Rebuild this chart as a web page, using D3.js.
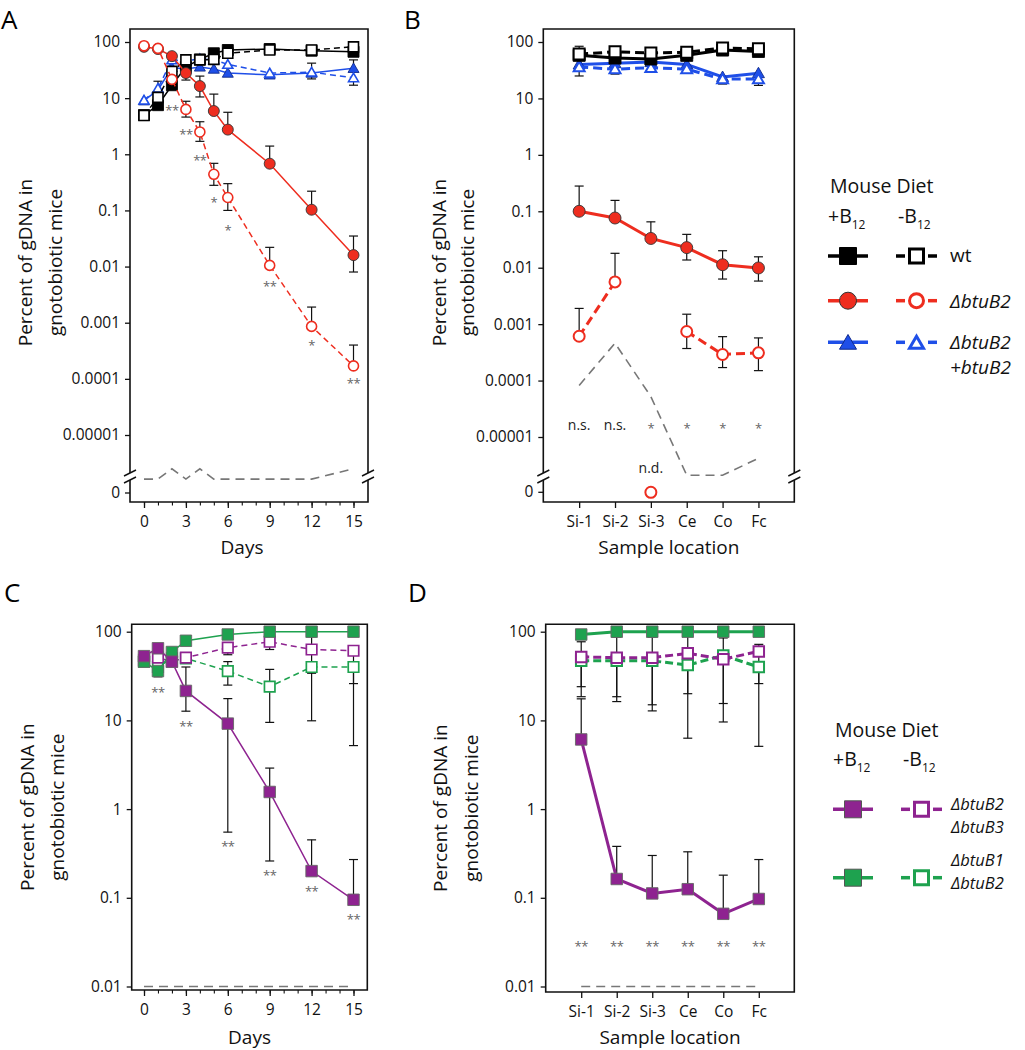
<!DOCTYPE html>
<html>
<head>
<meta charset="utf-8">
<script src="https://cdn.jsdelivr.net/npm/d3@7"></script>
<style>
  body { margin: 0; background: #fff; }
  text { font-family: "Open Sans", "DejaVu Sans", sans-serif; }
</style>
</head>
<body>
<svg id="fig" width="1025" height="1050"></svg>
<script>
// ---------- data ----------
const daysA = [0, 1, 2, 3, 4, 5, 6, 9, 12, 15];
const dayTicks = [0, 3, 6, 9, 12, 15];
const dayMinor = [0, 1, 2, 3, 4, 5, 6, 7, 8, 9, 10, 11, 12, 13, 14, 15];
const yTicksAB = [100, 10, 1, 0.1, 0.01, 0.001, 0.0001, 0.00001];
const yTicksCD = [100, 10, 1, 0.1, 0.01];

const wtPlusA = [5, 7.5, 17, 36, 49, 63, 72, 75, 70, 67];
const wtMinusA = [4.9, 10.3, 30, 48, 48, 49, 63, 72, 72, 82];
const compPlusA = [9, 14, 35, 33, 36, 33, 28, 26, 28, 34];
const compPlusA_hi = [null, null, null, null, null, null, null, null, 42, 48];
const compPlusA_lo = [null, null, null, null, null, null, null, null, 22, null];
const compMinusA = [9.2, 15, 48, 46, 50, 48, 40, 28, 29, 23];
const compMinusA_hi = [null, 20, null, null, null, null, null, null, null, null];
const compMinusA_lo = [null, null, null, null, null, null, null, null, null, 17];
const btuB2PlusA = [82, 75, 56, 28, 16.4, 5.9, 2.75, 0.68, 0.103, 0.016];
const btuB2PlusA_hi = [null, null, null, null, 24.7, 11.8, 5.6, 1.4, 0.22, 0.035];
const btuB2PlusA_lo = [null, null, null, 21, 10.5, null, null, null, null, 0.008];
const btuB2MinusA = [86, 77, 21.6, 6.3, 2.5, 0.44, 0.17, 0.0105, 0.00086, 0.00017];
const btuB2MinusA_hi = [null, null, null, 8.8, 3.8, 0.69, 0.3, 0.022, 0.0019, 0.0004];
const btuB2MinusA_lo = [null, null, null, 4.6, 1.7, 0.28, 0.1, null, null, null];
const lodA = [1.64e-6, 1.64e-6, 2.5e-6, 1.64e-6, 2.5e-6, 1.64e-6, 1.64e-6, 1.64e-6, 1.64e-6, 2.5e-6];
const starDaysA = [2, 3, 4, 5, 6, 9, 12, 15];
const starsA = ['**', '**', '**', '*', '*', '**', '*', '**'];
const starLevelA = [6.9, 2.6, 0.88, 0.158, 0.05, 0.005, 0.00046, 0.000095];

const sites = ['Si-1', 'Si-2', 'Si-3', 'Ce', 'Co', 'Fc'];
const wtPlusB = [58, 52, 50, 58, 72, 68];
const wtMinusB = [61, 67, 64, 66, 78, 76];
const wtMinusB_hi = [84, 78, 74, 76, 84, 84];
const compPlusB = [40, 42, 44, 40, 24, 28];
const compMinusB = [36, 33, 35, 33, 22, 22];
const compMinusB_lo = [25, 27, 30, 28, 18, 17];
const btuB2PlusB = [0.1, 0.076, 0.033, 0.0227, 0.0113, 0.0099];
const btuB2PlusB_hi = [0.28, 0.156, 0.065, 0.039, 0.02, 0.0156];
const btuB2PlusB_lo = [null, null, null, 0.0137, 0.0063, 0.0058];
const btuB2MinusB = [0.00061, 0.0056, 0, 0.00074, 0.00029, 0.00031];
const btuB2MinusB_hi = [0.0019, 0.018, null, 0.0015, 0.0006, 0.00057];
const btuB2MinusB_lo = [null, null, null, 0.00037, 0.00017, 0.00015];
const lodB = [8.2e-5, 4.6e-4, 5.2e-5, 2.1e-6, 2.1e-6, 4.2e-6];
const sigB = ['n.s.', 'n.s.', '*', '*', '*', '*'];
const sigLevelB = 1.63e-5;
const ndLevelB = 2.8e-6;

const daysC = [0, 1, 2, 3, 6, 9, 12, 15];
const b2b3PlusC = [53, 65, 46, 21.5, 9.2, 1.56, 0.2, 0.095];
const b2b3PlusC_hi = [null, null, null, 40, 17.6, 2.9, 0.45, 0.27];
const b2b3PlusC_lo = [null, null, null, 12.7, 0.55, 0.26, null, null];
const b2b3MinusC = [48, 51, 46, 51, 66, 77, 63, 61];
const b2b3MinusC_hi = [null, null, null, null, 75, null, 88, null];
const b2b3MinusC_lo = [null, null, null, null, 55, 63, 34, 26];
const b1b2PlusC = [46, 36, 59, 79, 93, 100, 100, 100];
const b1b2PlusC_lo = [null, 31, null, null, null, null, null, null];
const b1b2MinusC = [46, 40, 50, 50, 36, 24, 40, 40];
const b1b2MinusC_hi = [null, null, null, null, 46, 37.6, null, null];
const b1b2MinusC_lo = [null, null, null, null, 25, 9.5, 9.9, 5.2];
const lodDaysC = [0, 15];
const lodC = [0.01, 0.01];
const starDaysC = [1, 3, 6, 9, 12, 15];
const starLevelC = [22.4, 9.4, 0.42, 0.197, 0.128, 0.062];

const b2b3PlusD = [6.1, 0.163, 0.112, 0.125, 0.066, 0.097];
const b2b3PlusD_hi = [17.5, 0.38, 0.3, 0.33, 0.18, 0.27];
const b2b3MinusD = [52, 51, 51, 57, 49, 60];
const b2b3MinusD_hi = [77, 87, 87, 90, 85, 72];
const b2b3MinusD_lo = [18.5, 16.3, 12.8, 6.3, 15.5, 5.1];
const b1b2PlusD = [93, 100, 100, 100, 100, 100];
const b1b2MinusD = [47, 47, 47, 42, 54, 40];
const b1b2MinusD_lo = [24, 18.5, 15, 20, 9.6, 26];
const lodD = [0.01, 0.01, 0.01, 0.01, 0.01, 0.01];
const starLevelD = 0.031;

// ---------- styles ----------
const BLACK = '#000000';
const RED = '#ee2d1f';
const BLUE = '#1f4fe8';
const PURPLE = '#8e2390';
const GREEN = '#1ea24f';
const GRAY = '#777777';
const STAR = '#666666';

const svg = d3.select('#fig');

function markerPath(shape, size) {
  let area = size * size;
  if (shape === 'circle') area = Math.PI * (size / 2) ** 2;
  if (shape === 'triangle') area = (Math.sqrt(3) / 4) * size * size;
  const type = { square: d3.symbolSquare, circle: d3.symbolCircle, triangle: d3.symbolTriangle }[shape];
  return d3.symbol(type, area)();
}

function drawPanel(p) {
  const g = svg.append('g');
  const { l, r, t, b } = p.box;
  const yp = (v) => (v === 0 ? p.zeroY : p.y(v));

  // frame (gap where the axis is broken)
  const k = p.brk;
  const frame = k
    ? `M${l},${k - 4}V${t}H${r}V${k - 4}M${r},${k + 3}V${b}H${l}V${k + 3}`
    : `M${l},${t}H${r}V${b}H${l}Z`;
  g.append('path')
    .attr('d', frame)
    .attr('fill', 'none')
    .attr('stroke', '#111')
    .attr('stroke-width', 1.6);
  if (k) {
    [l, r].forEach((xx) => {
      [-1, 6].forEach((o) => {
        g.append('line')
          .attr('x1', xx - 6).attr('y1', k + o)
          .attr('x2', xx + 6).attr('y2', k + o - 6)
          .attr('stroke', '#111')
          .attr('stroke-width', 1.4);
      });
    });
  }

  // y axis
  const ya = g.append('g')
    .attr('transform', `translate(${l},0)`)
    .call(d3.axisLeft(p.y).tickValues(p.yTicks).tickFormat((v) => String(v)).tickSize(5).tickPadding(5));
  ya.select('.domain').remove();
  ya.selectAll('line').attr('stroke', '#111').attr('stroke-width', 1.3);
  ya.selectAll('text').attr('font-size', 15.5).attr('fill', '#111')
    .attr('font-family', '"Open Sans", sans-serif');
  if (p.zeroY) {
    g.append('line')
      .attr('x1', l - 5).attr('x2', l)
      .attr('y1', p.zeroY).attr('y2', p.zeroY)
      .attr('stroke', '#111').attr('stroke-width', 1.3);
    g.append('text')
      .attr('x', l - 10).attr('y', p.zeroY)
      .attr('dy', '0.32em')
      .attr('text-anchor', 'end')
      .attr('font-size', 15.5)
      .attr('fill', '#111')
      .text('0');
  }

  // x axis
  const xa = g.append('g')
    .attr('transform', `translate(0,${b})`)
    .call(d3.axisBottom(p.x).tickValues(p.xTicks).tickSize(6).tickPadding(8));
  xa.select('.domain').remove();
  xa.selectAll('line').attr('stroke', '#111').attr('stroke-width', 1.3);
  xa.selectAll('text').attr('font-size', 15.5).attr('fill', '#111')
    .attr('font-family', '"Open Sans", sans-serif');
  if (p.xMinor) {
    const xm = g.append('g')
      .attr('transform', `translate(0,${b})`)
      .call(d3.axisBottom(p.x).tickValues(p.xMinor).tickSize(3.5).tickFormat(''));
    xm.select('.domain').remove();
    xm.selectAll('line').attr('stroke', '#111').attr('stroke-width', 1.1);
  }

  // detection limit
  g.append('path')
    .datum(p.lod.x.map((xv, i) => [p.x(xv), yp(p.lod.v[i])]))
    .attr('d', d3.line())
    .attr('fill', 'none')
    .attr('stroke', GRAY)
    .attr('stroke-width', 1.6)
    .attr('stroke-dasharray', '9,6');

  // error bars
  const cap = 4.5;
  p.series.forEach((s) => {
    s.x.forEach((xv, i) => {
      const lo = s.lo ? s.lo[i] : null;
      const hi = s.hi ? s.hi[i] : null;
      if (lo == null && hi == null) return;
      const cx = p.x(xv);
      const y1 = yp(lo != null ? lo : s.v[i]);
      const y2 = yp(hi != null ? hi : s.v[i]);
      g.append('line').attr('x1', cx).attr('x2', cx).attr('y1', y1).attr('y2', y2)
        .attr('stroke', '#111').attr('stroke-width', 1.2);
      [lo != null ? y1 : null, hi != null ? y2 : null].forEach((yy) => {
        if (yy == null) return;
        g.append('line').attr('x1', cx - cap).attr('x2', cx + cap).attr('y1', yy).attr('y2', yy)
          .attr('stroke', '#111').attr('stroke-width', 1.2);
      });
    });
  });

  // series lines and markers
  p.series.forEach((s) => {
    const pts = s.x.map((xv, i) => ({ x: xv, v: s.v[i] }));
    g.append('path')
      .datum(pts)
      .attr('d', d3.line().defined((d) => d.v > 0).x((d) => p.x(d.x)).y((d) => yp(d.v)))
      .attr('fill', 'none')
      .attr('stroke', s.color)
      .attr('stroke-width', p.lw)
      .attr('stroke-dasharray', s.filled ? null : p.dash);
    g.selectAll(null)
      .data(pts)
      .enter()
      .append('path')
      .attr('d', markerPath(s.shape, s.filled ? p.msize : p.msize - 1))
      .attr('transform', (d) => `translate(${p.x(d.x)},${yp(d.v) + (s.shape === 'triangle' ? 1 : 0)})`)
      .attr('fill', s.filled ? s.color : '#fff')
      .attr('stroke', s.filled ? s.edge : s.color)
      .attr('stroke-width', s.filled ? 0.9 : p.openW);
  });

  // significance labels
  (p.notes || []).forEach((n) => {
    const star = n.text.indexOf('*') >= 0;
    g.append('text')
      .attr('x', p.x(n.x))
      .attr('y', yp(n.v) + (star ? 8 : 5))
      .attr('text-anchor', 'middle')
      .attr('font-size', star ? 13 : 14)
      .attr('fill', star ? STAR : '#222')
      .attr('letter-spacing', star ? -0.5 : 0)
      .text(n.text);
  });

  // axis titles
  const midY = (t + b) / 2 + p.titleShift;
  ['Percent of gDNA in', 'gnotobiotic mice'].forEach((s, i) => {
    g.append('text')
      .attr('transform', `translate(${l - (i ? p.title2 : p.title1)},${midY}) rotate(-90)`)
      .attr('text-anchor', 'middle')
      .attr('font-size', 19)
      .attr('fill', '#111')
      .text(s);
  });
  g.append('text')
    .attr('x', p.xTitleX)
    .attr('y', b + p.xTitleDy)
    .attr('text-anchor', 'middle')
    .attr('font-size', 19)
    .attr('fill', '#111')
    .text(p.xTitle);
  g.append('text')
    .attr('x', p.letter[0])
    .attr('y', p.letter[1])
    .attr('font-size', 26)
    .attr('font-family', '"Liberation Sans", Arial, sans-serif')
    .attr('fill', '#000')
    .text(p.letter[2]);
  return g;
}

// ---------- panel A ----------
const xA = d3.scaleLinear().domain([0, 15]).range([144, 353.5]);
drawPanel({
  box: { l: 130, r: 368, t: 29, b: 502 },
  x: xA,
  y: d3.scaleLog().domain([100, 0.00001]).range([42, 435]),
  yTicks: yTicksAB, zeroY: 493, brk: 477,
  xTicks: dayTicks, xMinor: dayMinor,
  lw: 1.5, dash: '6,4', msize: 11, openW: 1.6,
  lod: { x: daysA, v: lodA },
  series: [
    { x: daysA, v: compPlusA, hi: compPlusA_hi, lo: compPlusA_lo, color: BLUE, edge: '#102a8c', shape: 'triangle', filled: true },
    { x: daysA, v: compMinusA, hi: compMinusA_hi, lo: compMinusA_lo, color: BLUE, shape: 'triangle', filled: false },
    { x: daysA, v: wtPlusA, color: BLACK, edge: BLACK, shape: 'square', filled: true },
    { x: daysA, v: wtMinusA, color: BLACK, shape: 'square', filled: false },
    { x: daysA, v: btuB2PlusA, hi: btuB2PlusA_hi, lo: btuB2PlusA_lo, color: RED, edge: '#333', shape: 'circle', filled: true },
    { x: daysA, v: btuB2MinusA, hi: btuB2MinusA_hi, lo: btuB2MinusA_lo, color: RED, shape: 'circle', filled: false },
  ],
  notes: starDaysA.map((d, i) => ({ x: d, v: starLevelA[i], text: starsA[i] })),
  title1: 98, title2: 68, titleShift: -3,
  xTitle: 'Days', xTitleX: 242, xTitleDy: 52,
  letter: [1, 29, 'A'],
});

// ---------- panel B ----------
const xB = d3.scalePoint().domain(sites).range([543.3, 794.3]).padding(1);
drawPanel({
  box: { l: 543.3, r: 794.3, t: 29, b: 502 },
  x: xB,
  y: d3.scaleLog().domain([100, 0.00001]).range([42, 437]),
  yTicks: yTicksAB, zeroY: 492.3, brk: 477,
  xTicks: sites,
  lw: 3, dash: '9,5', msize: 12, openW: 2,
  lod: { x: sites, v: lodB },
  series: [
    { x: sites, v: compPlusB, color: BLUE, edge: '#102a8c', shape: 'triangle', filled: true },
    { x: sites, v: compMinusB, lo: compMinusB_lo, color: BLUE, shape: 'triangle', filled: false },
    { x: sites, v: wtPlusB, color: BLACK, edge: BLACK, shape: 'square', filled: true },
    { x: sites, v: wtMinusB, hi: wtMinusB_hi, color: BLACK, shape: 'square', filled: false },
    { x: sites, v: btuB2PlusB, hi: btuB2PlusB_hi, lo: btuB2PlusB_lo, color: RED, edge: '#333', shape: 'circle', filled: true },
    { x: sites, v: btuB2MinusB, hi: btuB2MinusB_hi, lo: btuB2MinusB_lo, color: RED, shape: 'circle', filled: false },
  ],
  notes: sites.map((s, i) => ({ x: s, v: sigLevelB, text: sigB[i] }))
    .concat([{ x: 'Si-3', v: ndLevelB, text: 'n.d.' }]),
  title1: 97, title2: 69, titleShift: -3,
  xTitle: 'Sample location', xTitleX: 668.8, xTitleDy: 52,
  letter: [404, 29, 'B'],
});

// ---------- panel C ----------
drawPanel({
  box: { l: 131.7, r: 367.3, t: 624.3, b: 990 },
  x: xA,
  y: d3.scaleLog().domain([100, 0.01]).range([631.7, 986.5]),
  yTicks: yTicksCD,
  xTicks: dayTicks, xMinor: dayMinor,
  lw: 1.5, dash: '6,4', msize: 11.5, openW: 1.7,
  lod: { x: lodDaysC, v: lodC },
  series: [
    { x: daysC, v: b1b2MinusC, hi: b1b2MinusC_hi, lo: b1b2MinusC_lo, color: GREEN, shape: 'square', filled: false },
    { x: daysC, v: b2b3MinusC, hi: b2b3MinusC_hi, lo: b2b3MinusC_lo, color: PURPLE, shape: 'square', filled: false },
    { x: daysC, v: b1b2PlusC, lo: b1b2PlusC_lo, color: GREEN, edge: '#666', shape: 'square', filled: true },
    { x: daysC, v: b2b3PlusC, hi: b2b3PlusC_hi, lo: b2b3PlusC_lo, color: PURPLE, edge: '#666', shape: 'square', filled: true },
  ],
  notes: starDaysC.map((d, i) => ({ x: d, v: starLevelC[i], text: '**' })),
  title1: 98, title2: 68, titleShift: 0,
  xTitle: 'Days', xTitleX: 249.5, xTitleDy: 54,
  letter: [4, 602, 'C'],
});

// ---------- panel D ----------
const xD = d3.scalePoint().domain(sites).range([545.7, 794.3]).padding(1);
drawPanel({
  box: { l: 545.7, r: 794.3, t: 624.3, b: 992 },
  x: xD,
  y: d3.scaleLog().domain([100, 0.01]).range([631.7, 986.5]),
  yTicks: yTicksCD,
  xTicks: sites,
  lw: 3, dash: '8,4', msize: 11.5, openW: 2,
  lod: { x: sites, v: lodD },
  series: [
    { x: sites, v: b1b2MinusD, lo: b1b2MinusD_lo, color: GREEN, shape: 'square', filled: false },
    { x: sites, v: b2b3MinusD, hi: b2b3MinusD_hi, lo: b2b3MinusD_lo, color: PURPLE, shape: 'square', filled: false },
    { x: sites, v: b1b2PlusD, color: GREEN, edge: '#666', shape: 'square', filled: true },
    { x: sites, v: b2b3PlusD, hi: b2b3PlusD_hi, color: PURPLE, edge: '#666', shape: 'square', filled: true },
  ],
  notes: sites.map((s) => ({ x: s, v: starLevelD, text: '**' })),
  title1: 99, title2: 68, titleShift: 0,
  xTitle: 'Sample location', xTitleX: 670, xTitleDy: 52,
  letter: [408, 602, 'D'],
});

// ---------- legends ----------
function legend(cfg) {
  const g = svg.append('g');
  g.append('text').attr('x', cfg.titleX).attr('y', cfg.titleY)
    .attr('font-size', 19.5).attr('fill', '#111').text('Mouse Diet');
  [['+B', cfg.plusX], ['-B', cfg.minusX]].forEach(([s, xx]) => {
    const tx = g.append('text').attr('x', xx).attr('y', cfg.dietY)
      .attr('font-size', 19.5).attr('fill', '#111');
    tx.append('tspan').text(s);
    tx.append('tspan').attr('font-size', 12).attr('dy', 6).text('12');
  });
  cfg.rows.forEach((row) => {
    // filled (+B12)
    g.append('line').attr('x1', cfg.fill[0]).attr('x2', cfg.fill[1])
      .attr('y1', row.y).attr('y2', row.y)
      .attr('stroke', row.color).attr('stroke-width', 3.5);
    const fx = (cfg.fill[0] + cfg.fill[1]) / 2;
    g.append('path').attr('d', markerPath(row.shape, cfg.size))
      .attr('transform', `translate(${fx},${row.y + (row.shape === 'triangle' ? 2 : 0)})`)
      .attr('fill', row.color).attr('stroke', row.edge).attr('stroke-width', 1);
    // open (-B12)
    const ox = (cfg.open[0] + cfg.open[1]) / 2;
    [[cfg.open[0], cfg.open[0] + 9], [cfg.open[1] - 9, cfg.open[1]]].forEach(([a, c]) => {
      g.append('line').attr('x1', a).attr('x2', c).attr('y1', row.y).attr('y2', row.y)
        .attr('stroke', row.color).attr('stroke-width', 3.5);
    });
    g.append('path').attr('d', markerPath(row.shape, cfg.size - 3))
      .attr('transform', `translate(${ox},${row.y + (row.shape === 'triangle' ? 2 : 0)})`)
      .attr('fill', '#fff').attr('stroke', row.color).attr('stroke-width', 3);
    row.labels.forEach((s, i) => {
      g.append('text').attr('x', cfg.labelX).attr('y', row.base[i])
        .attr('font-size', cfg.labelSize).attr('fill', '#111')
        .attr('font-style', s === 'wt' ? 'normal' : 'italic')
        .text(s);
    });
  });
}

legend({
  titleX: 830, titleY: 193, dietY: 223, plusX: 828, minusX: 898,
  fill: [828, 868], open: [896, 937], labelX: 950, size: 17, labelSize: 19,
  rows: [
    { y: 256, color: BLACK, edge: BLACK, shape: 'square', labels: ['wt'], base: [262] },
    { y: 300.7, color: RED, edge: '#333', shape: 'circle', labels: ['\u0394btuB2'], base: [307.5] },
    { y: 342.3, color: BLUE, edge: '#102a8c', shape: 'triangle', labels: ['\u0394btuB2', '+btuB2'], base: [349, 374] },
  ],
});

legend({
  titleX: 835, titleY: 737, dietY: 766, plusX: 833, minusX: 903,
  fill: [833, 873], open: [901, 942], labelX: 951, size: 17, labelSize: 16.5,
  rows: [
    { y: 809.3, color: PURPLE, edge: '#555', shape: 'square', labels: ['\u0394btuB2', '\u0394btuB3'], base: [810, 833] },
    { y: 877.7, color: GREEN, edge: '#555', shape: 'square', labels: ['\u0394btuB1', '\u0394btuB2'], base: [866, 889] },
  ],
});
</script>
</body>
</html>
